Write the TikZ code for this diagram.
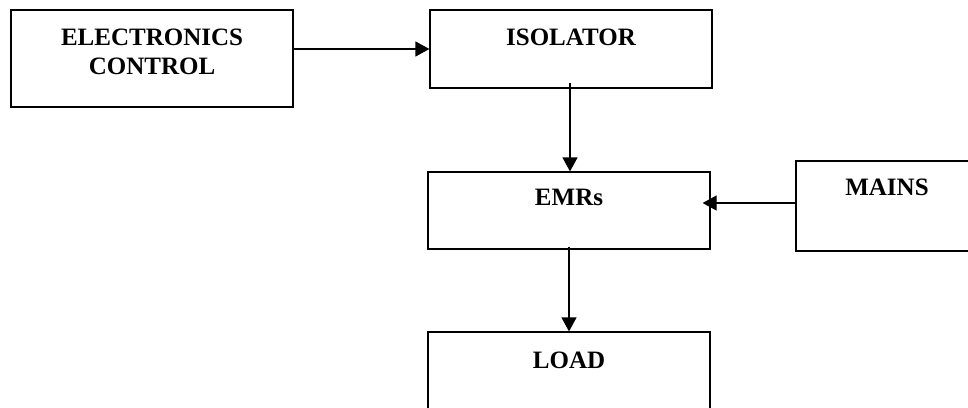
\documentclass[tikz,border=0pt]{standalone}
\usepackage{fontspec}
\setmainfont{Liberation Serif}
\usetikzlibrary{positioning,arrows.meta}

\begin{document}
\begin{tikzpicture}[x=1pt, y=-1pt,
  box/.style={draw, line width=1.2pt, minimum width=282pt},
  lbl/.style={inner sep=0pt, align=center, font=\fontsize{25}{29}\selectfont\bfseries},
  arrow/.style={-{Triangle[length=14pt, width=15pt]}, line width=1.2pt},
]
  \clip (0,0) rectangle (968,407);

  \node[box, minimum height=97pt] (ctrl) at (152,58.5) {};
  \node[lbl, below=19pt of ctrl.north] (ctrltxt) {ELECTRONICS\\CONTROL};

  \node[box, minimum height=78pt] (iso) at (571,49) {};
  \node[lbl, below=19pt of iso.north] (isotxt) {ISOLATOR};

  \node[box, minimum height=77pt] (emr) at (569,210.5) {};
  \node[lbl, below=18pt of emr.north] (emrtxt) {EMRs};

  \node[box, minimum width=182pt, minimum height=90pt] (mains) at (887,206) {};
  \node[lbl, below=18pt of mains.north] (mainstxt) {MAINS};

  \node[box, minimum height=90pt] (load) at (569,377) {};
  \node[lbl, below=20pt of load.north] (loadtxt) {LOAD};

  \draw[arrow] (ctrl.east |- iso.west) -- (iso.west);
  \draw[arrow] ([xshift=-1pt,yshift=6pt]iso.south) -- ([xshift=-1pt]iso.south |- emr.north);
  \draw[arrow] ([yshift=3pt]mains.west) -- ([xshift=-8pt,yshift=3pt]emr.east |- mains.west);
  \draw[arrow] ([yshift=3pt]emr.south) -- (load.north);
\end{tikzpicture}
\end{document}
